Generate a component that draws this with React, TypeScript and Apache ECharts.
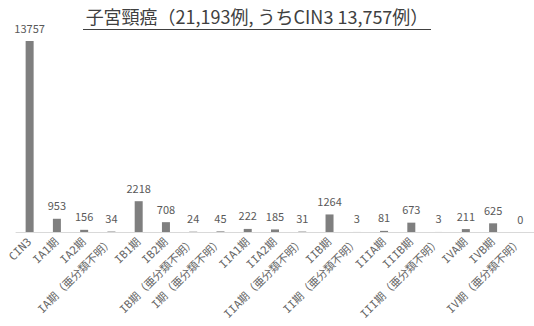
import React, { useEffect, useRef } from "react";
import * as echarts from "echarts";

const titleText = "子宮頸癌（21,193例, うちCIN3 13,757例）";
const categories = [
  "CIN3", "IA1期", "IA2期", "IA期（亜分類不明）", "IB1期", "IB2期", "IB期（亜分類不明）", "I期（亜分類不明）",
  "IIA1期", "IIA2期", "IIA期（亜分類不明）", "IIB期", "II期（亜分類不明）", "IIIA期", "IIIB期",
  "III期（亜分類不明）", "IVA期", "IVB期", "IV期（亜分類不明）",
];
const counts = [13757, 953, 156, 34, 2218, 708, 24, 45, 222, 185, 31, 1264, 3, 81, 673, 3, 211, 625, 0];

export default function App() {
  const ref = useRef<HTMLDivElement>(null);
  useEffect(() => {
    document.body.style.margin = "0";
    const chart = echarts.init(ref.current!, null, { renderer: "svg" });
    chart.setOption({
      animation: false,
      backgroundColor: "#ffffff",
      grid: { left: 16, width: 528, top: 41, height: 191, containLabel: false },
      xAxis: {
        type: "category",
        data: categories,
        axisLine: { lineStyle: { color: "#d9d9d9", width: 1 } },
        axisTick: { show: false },
        axisLabel: {
          rotate: 45,
          interval: 0,
          margin: 8,
          fontSize: 11,
          color: "#666666",
          fontFamily: "DejaVu Sans Mono, Noto Sans CJK JP",
        },
      },
      yAxis: { type: "value", min: 0, max: 13757, show: false, splitLine: { show: false } },
      series: [
        {
          type: "bar",
          data: counts,
          barWidth: 8,
          itemStyle: { color: "#7f7f7f" },
          label: {
            show: true,
            position: "top",
            distance: 8,
            fontSize: 11,
            color: "#595959",
            fontFamily: "Noto Sans CJK JP",
          },
        },
      ],
      graphic: [
        {
          type: "text",
          x: 257,
          y: 7,
          style: {
            text: titleText,
            fontSize: 18,
            fontFamily: "Noto Sans CJK JP",
            fill: "#404040",
            textAlign: "center",
          },
        },
        {
          type: "line",
          shape: { x1: 83, y1: 29.5, x2: 431, y2: 29.5 },
          style: { stroke: "#404040", lineWidth: 1 },
        },
      ],
    });
    return () => chart.dispose();
  }, []);
  return <div ref={ref} style={{ width: 534, height: 326 }} />;
}
